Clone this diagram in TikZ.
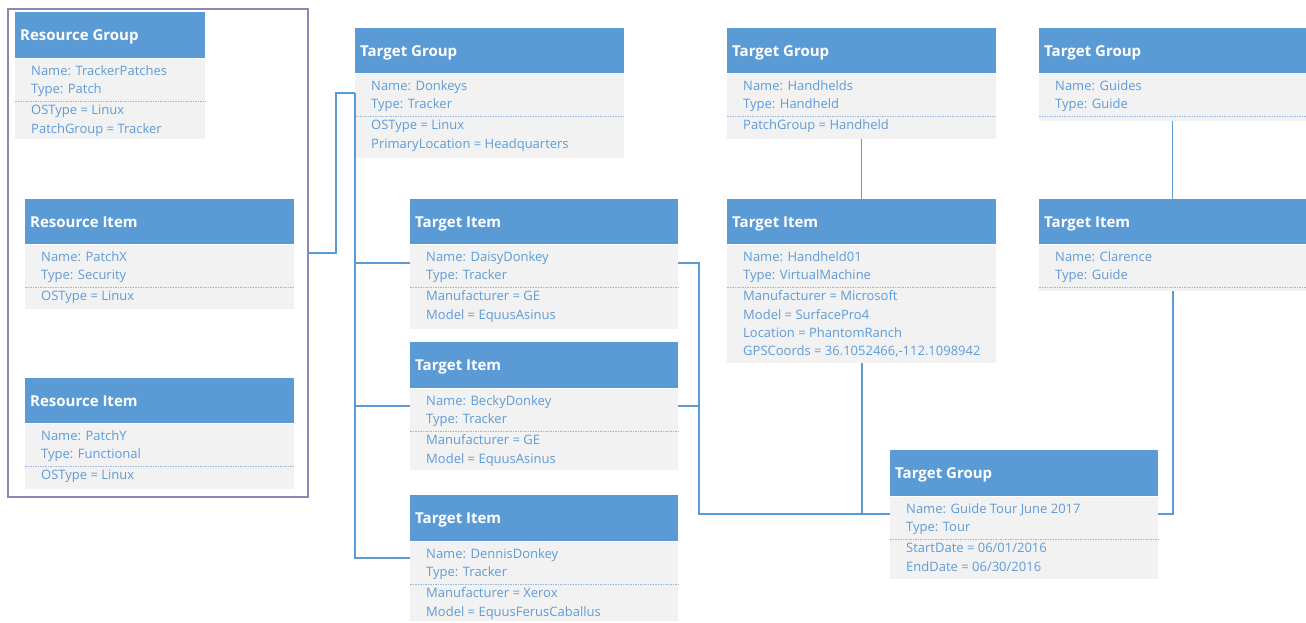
\documentclass[tikz,border=0pt]{standalone}
\usepackage{fontspec}
\setmainfont{Open Sans}
\usetikzlibrary{calc}

\definecolor{hdrblue}{HTML}{5B9BD5}
\definecolor{bodygray}{HTML}{F2F2F2}
\definecolor{bodytext}{HTML}{5E9CD8}
\definecolor{sepline}{HTML}{9DB8D9}
\definecolor{framecol}{HTML}{8C88B2}

\tikzset{
  hdr/.style={fill=hdrblue, draw=none, anchor=north west, inner sep=0pt},
  hdrtext/.style={anchor=base west, inner sep=0pt, text=white, font=\fontsize{15}{18}\selectfont\bfseries},
  bodyb/.style={fill=bodygray, draw=none, anchor=north west, inner sep=0pt},
  bt/.style={anchor=base west, inner sep=0pt, text=bodytext, font=\fontsize{13}{15}\selectfont},
  sepl/.style={draw=sepline, line width=0.8pt, dash pattern=on 1.5pt off 1pt},
  conn/.style={draw=hdrblue, line width=1.9pt},
  rgframe/.style={draw=framecol, line width=1.8pt, anchor=north west, inner sep=0pt}
}

% entity box: #1 name, #2 x, #3 top, #4 width, #5 header height, #6 body height,
% #7 title, #8 identity lines, #9 property lines
\newcommand\entity[9]{%
  \node[hdr, minimum width=#4pt, minimum height=#5pt] (#1) at (#2,#3) {};
  \node[hdrtext] (#1-t) at ([xshift=5pt,yshift=-5.5pt]#1.west) {#7};
  \node[bodyb, minimum width=#4pt, minimum height=#6pt] (#1-b) at (#1.south west) {};
  \draw[sepl] ([yshift=-43pt]#1-b.north west) -- ([yshift=-43pt]#1-b.north east);
  \foreach \t [count=\i] in {#8}
    \node[bt] (#1-a\i) at ([xshift=16pt,yshift={-(13+18*(\i-1)+4.5)*1pt}]#1-b.north west) {\t};
  \if\relax\detokenize{#9}\relax\else
  \foreach \t [count=\i] in {#9}
    \node[bt] (#1-c\i) at ([xshift=16pt,yshift={-(52+18.3*(\i-1)+4.5)*1pt}]#1-b.north west) {\t};
  \fi
}

\begin{document}
\begin{tikzpicture}[x=1pt, y=-1pt]
\useasboundingbox (0,0) rectangle (1306,622);

% resource group container
\node[rgframe, minimum width=300pt, minimum height=488pt] (frame) at (7,8) {};

\entity{rg}{15}{12}{190}{46}{80}{Resource Group}
  {Name: TrackerPatches, Type: Patch}{OSType = Linux, PatchGroup = Tracker}
\entity{ria}{25}{199}{269}{45}{64}{Resource Item}
  {Name: PatchX, Type: Security}{OSType = Linux}
\entity{rib}{25}{378}{269}{45}{65}{Resource Item}
  {Name: PatchY, Type: Functional}{OSType = Linux}

% donkeys
\entity{tgd}{355}{28}{269}{45}{84}{Target Group}
  {Name: Donkeys, Type: Tracker}{OSType = Linux, PrimaryLocation = Headquarters}
\entity{daisy}{410}{199}{268}{45}{84}{Target Item}
  {Name: DaisyDonkey, Type: Tracker}{Manufacturer = GE, Model = EquusAsinus}
\entity{becky}{410}{342}{268}{46}{81}{Target Item}
  {Name: BeckyDonkey, Type: Tracker}{Manufacturer = GE, Model = EquusAsinus}
\entity{dennis}{410}{495}{268}{46}{79}{Target Item}
  {Name: DennisDonkey, Type: Tracker}{Manufacturer = Xerox, Model = EquusFerusCaballus}

% handhelds
\entity{tgh}{727}{28}{269}{45}{65}{Target Group}
  {Name: Handhelds, Type: Handheld}{PatchGroup = Handheld}
\entity{hh}{727}{199}{269}{45}{118}{Target Item}
  {Name: Handheld01, Type: VirtualMachine}
  {Manufacturer = Microsoft, Model = SurfacePro4, Location = PhantomRanch, {GPSCoords = 36.1052466,-112.1098942}}

% guides
\entity{tgg}{1039}{28}{267}{45}{47}{Target Group}
  {Name: Guides, Type: Guide}{}
\entity{clar}{1039}{199}{267}{45}{46}{Target Item}
  {Name: Clarence, Type: Guide}{}

% tour
\entity{tour}{890}{450}{268}{46}{82}{Target Group}
  {Name: Guide Tour June 2017, Type: Tour}{StartDate = 06/01/2016, EndDate = 06/30/2016}

% connectors
\coordinate (dtop) at ([yshift=-20pt]tgd-b.north west);
\coordinate (tourL) at ([yshift=-18pt]tour-b.north west);
\draw[conn] (frame.east) -- ++(27,0) |- (dtop);
\draw[conn] (dtop) |- ([yshift=-17pt]dennis-b.north west);
\draw[conn] ([yshift=-19pt]daisy-b.north west) -| (dtop);
\draw[conn] ([yshift=-18pt]becky-b.north west) -| (dtop);

\draw[conn] ([yshift=-19pt]daisy-b.north east) -- ++(21,0) |- (tourL);
\draw[conn] ([yshift=-18pt]becky-b.north east) -- ++(21,0);
\draw[conn] (hh-b.south) -- (hh-b.south |- tourL);
\draw[conn, line width=1.2pt] (tgh-b.south) -- (hh.north);
\draw[conn, line width=1.2pt] (tgg-b.south) -- (clar.north);
\draw[conn] (clar-b.south) |- ([yshift=-18pt]tour-b.north east);
\end{tikzpicture}
\end{document}
